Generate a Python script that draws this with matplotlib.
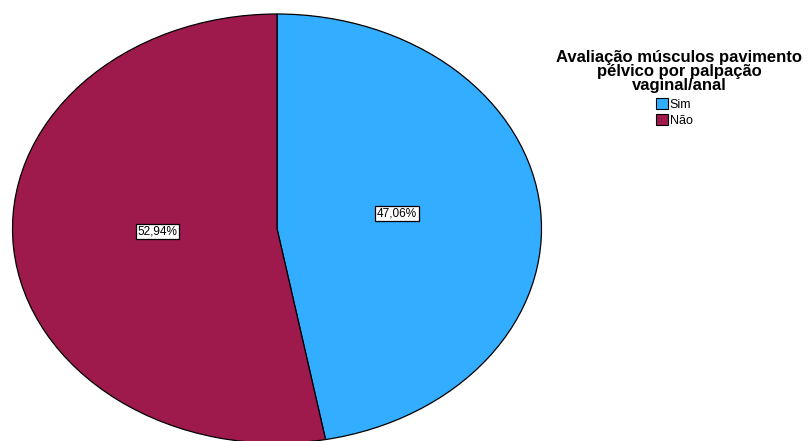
import matplotlib
matplotlib.use('Agg')
import matplotlib.pyplot as plt
from matplotlib.patches import Patch

plt.rcParams['font.family'] = ['Liberation Sans', 'DejaVu Sans']

categories = ['Sim', 'Não']
percentages = [47.06, 52.94]
colors = ['#33adff', '#9e1a4d']
legend_title = 'Avaliação músculos pavimento\npélvico por palpação\nvaginal/anal'

W, H = 808, 441
fig = plt.figure(figsize=(W / 100, H / 100), dpi=100)

# axes box equals the ellipse bounding box (pixels)
cx, cy, rx, ry = 277, 228.6, 264.5, 214.6
ax = fig.add_axes([(cx - rx) / W, (H - cy - ry) / H, 2 * rx / W, 2 * ry / H])

wedges, texts, autotexts = ax.pie(
    percentages, colors=colors, startangle=90, counterclock=False,
    autopct=lambda p: f'{p:.2f}%'.replace('.', ','), pctdistance=0.455,
    wedgeprops=dict(edgecolor='black', linewidth=0.9),
    textprops=dict(fontsize=8.5, color='black'),
)
for t in autotexts:
    x, y = t.get_position()
    t.set_position((x, y + 0.03))
    t.set_bbox(dict(facecolor='white', edgecolor='black', linewidth=0.9, pad=1.2))

# stretch the circle into an ellipse
ax.set_aspect('auto')
ax.set_xlim(-1, 1)
ax.set_ylim(-1, 1)
ax.axis('off')

fig.text(679 / W, 1 - 50 / H, legend_title, ha='center', va='top',
         fontsize=12, fontweight='bold', linespacing=0.92)

handles = [Patch(facecolor=c, edgecolor='black', linewidth=0.8) for c in colors]
fig.legend(handles, categories, loc='upper left', bbox_to_anchor=(656 / W, 1 - 98 / H),
           frameon=False, fontsize=9, handlelength=0.95, handleheight=0.95,
           handletextpad=0.15, labelspacing=0.3, borderpad=0, borderaxespad=0)

fig.savefig('out.png', dpi=100)
